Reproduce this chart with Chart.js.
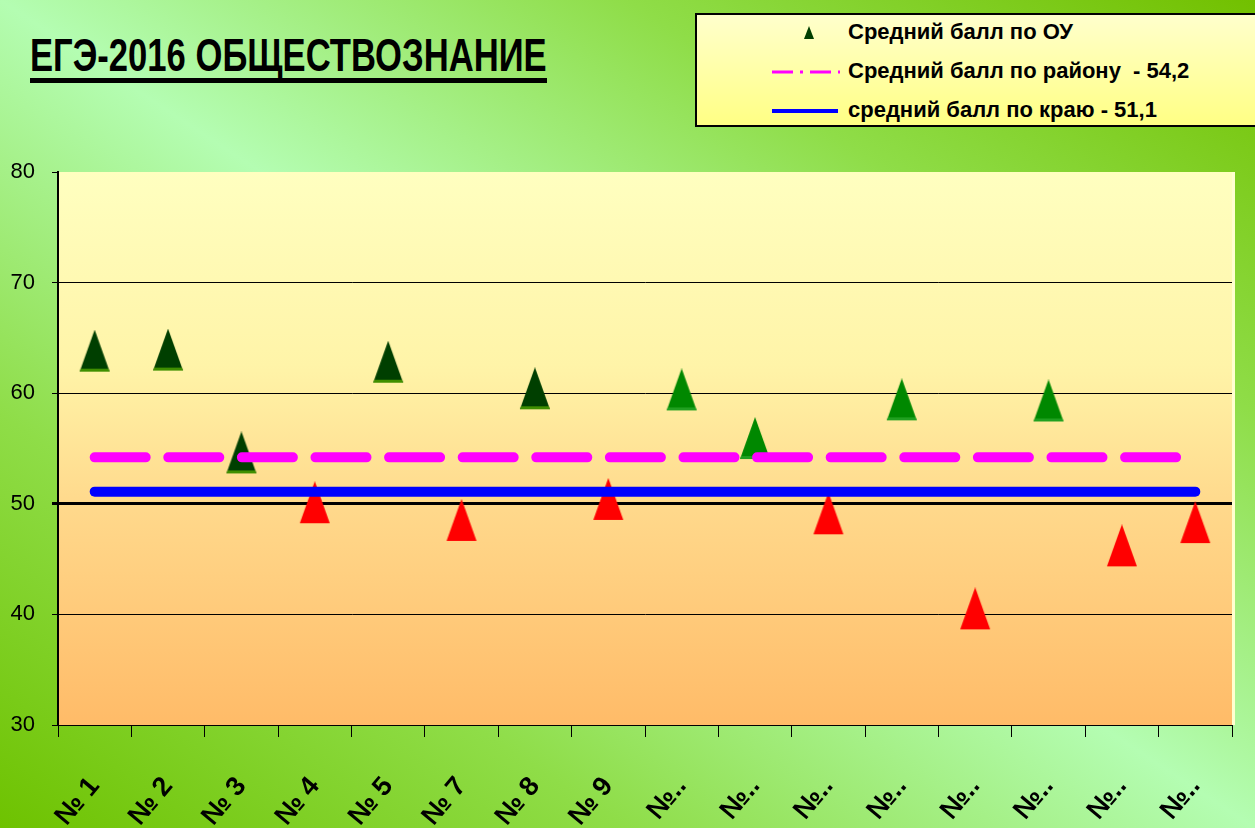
<!DOCTYPE html>
<html lang="ru">
<head>
<meta charset="utf-8">
<title>ЕГЭ-2016 Обществознание</title>
<script src="https://cdn.jsdelivr.net/npm/chart.js@4.4.1/dist/chart.umd.min.js"></script>
<style>
    html, body { margin: 0; padding: 0; width: 1255px; height: 828px; overflow: hidden; }
    body {
        position: relative;
        background: linear-gradient(to top right, #6ec200 0%, #8fdd48 25%, #b4fdb2 50%, #8fdd48 75%, #72c000 100%);
        font-family: "Liberation Sans", Arial, sans-serif;
    }
    #chart { position: absolute; left: 0; top: 0; }
    .title {
        position: absolute; left: 30px; top: 32px;
        font-size: 47px; font-weight: bold; line-height: 46px;
        border-bottom: 5px solid #000; white-space: nowrap;
        transform-origin: 0 0;
    }
    .legend {
        position: absolute; left: 695px; top: 13px; width: 580px; height: 110px;
        border: 2px solid #000;
        background: linear-gradient(#ffffcc, #ffff84);
    }
    .legend .row { position: absolute; left: 0; height: 30px; width: 100%; }
    .legend .swatch { position: absolute; left: 75px; top: 0; width: 68px; height: 30px; }
    .legend .text {
        position: absolute; left: 151px; top: 2px;
        font-size: 22px; font-weight: bold; line-height: 26px; white-space: pre;
    }
</style>
</head>
<body>
<div class="title" id="title">ЕГЭ-2016 ОБЩЕСТВОЗНАНИЕ</div>
<div class="legend" id="legend"></div>
<canvas id="chart" width="1255" height="828"></canvas>
<script>
// categories and values
const categories = ['№ 1', '№ 2', '№ 3', '№ 4', '№ 5', '№ 7', '№ 8', '№ 9',
    '№..', '№..', '№..', '№..', '№..', '№..', '№..', '№..'];
const ouScores = [63.8, 63.9, 54.6, 50.1, 62.8, 48.5, 60.4, 50.4,
    60.3, 55.9, 49.1, 59.4, 40.5, 59.3, 46.2, 48.3];
const districtLine = [54.2, 54.2, 54.2, 54.2, 54.2, 54.2, 54.2, 54.2,
    54.2, 54.2, 54.2, 54.2, 54.2, 54.2, 54.2, 54.2];
const regionLine = [51.1, 51.1, 51.1, 51.1, 51.1, 51.1, 51.1, 51.1,
    51.1, 51.1, 51.1, 51.1, 51.1, 51.1, 51.1, 51.1];
const yTicks = [30, 40, 50, 60, 70, 80];
const seriesLabels = ['Средний балл по ОУ', 'Средний балл по району  - 54,2', 'средний балл по краю - 51,1'];

// marker colour per school, as in the picture
const markerColours = ['dark', 'dark', 'dark', 'red', 'dark', 'red', 'dark', 'red',
    'green', 'green', 'red', 'green', 'red', 'green', 'red', 'red'];

// squeeze the title to the narrow width of the original
const titleEl = document.getElementById('title');
titleEl.style.transform = 'scaleX(' + (517 / titleEl.offsetWidth) + ')';

function makeTriangle(fill, base, w, h) {
    const c = document.createElement('canvas');
    c.width = w + 2; c.height = h + 1;
    const g = c.getContext('2d');
    g.beginPath();
    g.moveTo(c.width / 2, 0);
    g.lineTo(w + 1, h);
    g.lineTo(1, h);
    g.closePath();
    g.fillStyle = fill;
    g.fill();
    if (base) {
        g.save();
        g.clip();
        g.fillStyle = base;
        g.fillRect(0, h - 3, c.width, 4);
        g.restore();
    }
    return c;
}

const triangles = {
    dark: makeTriangle('#003f00', '#3f8f00', 30, 42),
    green: makeTriangle('#008800', '#20a020', 30, 42),
    red: makeTriangle('#ff0000', null, 30, 42)
};
const markerStyles = markerColours.map(k => triangles[k]);

const plotBackground = {
    id: 'plotBackground',
    beforeDraw(chart) {
        const { ctx, chartArea: a } = chart;
        const grad = ctx.createLinearGradient(0, a.top, 0, a.bottom);
        grad.addColorStop(0, '#ffffc0');
        grad.addColorStop(0.35, '#fff4a8');
        grad.addColorStop(0.6, '#ffd98c');
        grad.addColorStop(1, '#ffbb68');
        ctx.save();
        ctx.fillStyle = grad;
        ctx.fillRect(a.left, a.top, a.right - a.left, a.bottom - a.top);
        ctx.fillStyle = '#ffffd0';
        ctx.fillRect(a.right, a.top, 3, a.bottom - a.top);
        ctx.restore();
    }
};

const tickFont = { family: '"Liberation Sans", Arial, sans-serif', size: 22 };

const chart = new Chart(document.getElementById('chart'), {
    type: 'line',
    data: {
        labels: categories,
        datasets: [{
            label: seriesLabels[0],
            data: ouScores,
            showLine: false,
            pointStyle: markerStyles,
            pointRadius: 16,
            order: 3
        }, {
            label: seriesLabels[1],
            data: districtLine,
            borderColor: '#ff00ff',
            borderWidth: 10,
            borderDash: [51, 22.6],
            borderCapStyle: 'round',
            pointRadius: 0,
            order: 1
        }, {
            label: seriesLabels[2],
            data: regionLine,
            borderColor: '#0000ff',
            borderWidth: 10,
            borderCapStyle: 'round',
            pointRadius: 0,
            order: 2
        }]
    },
    options: {
        responsive: false,
        animation: false,
        layout: { padding: { top: 172, right: 23, left: 0, bottom: 0 } },
        plugins: {
            legend: { display: false },
            tooltip: { enabled: false }
        },
        scales: {
            x: {
                offset: true,
                grid: { offset: true, drawOnChartArea: false, color: '#000', tickLength: 12, lineWidth: 1 },
                border: { color: '#000', width: 1 },
                ticks: {
                    autoSkip: false, minRotation: 50, maxRotation: 50, padding: 34,
                    color: '#000', font: { family: '"Liberation Sans", Arial, sans-serif', size: 27, weight: 'bold' }
                },
                afterFit: s => { s.height = 103; }
            },
            y: {
                min: 30, max: 80,
                afterBuildTicks: s => { s.ticks = yTicks.map(v => ({ value: v })); },
                grid: {
                    color: c => c.tick && c.tick.value === 80 ? 'rgba(0,0,0,0)' : '#000',
                    lineWidth: c => c.tick && c.tick.value === 50 ? 3 : 1,
                    tickColor: '#000', tickLength: 6
                },
                border: { color: '#000', width: 2 },
                ticks: { color: '#000', font: tickFont, padding: 17 },
                afterFit: s => { s.width = 58; }
            }
        }
    },
    plugins: [plotBackground]
});

// HTML legend built from the chart's datasets
const legendEl = document.getElementById('legend');
const rowTops = [2, 41, 80];
chart.data.datasets.forEach((ds, i) => {
    const row = document.createElement('div');
    row.className = 'row';
    row.style.top = rowTops[i] + 'px';
    let swatch;
    if (i === 0) {
        swatch = '<svg class="swatch" width="68" height="30"><polygon points="37,9 42,22 32,22" fill="#003f00"/></svg>';
    } else if (i === 1) {
        swatch = '<svg class="swatch" width="68" height="30"><line x1="0" y1="16" x2="68" y2="16" stroke="#ff00ff" stroke-width="3" stroke-dasharray="21,7,3,7"/></svg>';
    } else {
        swatch = '<svg class="swatch" width="68" height="30"><line x1="0" y1="16" x2="66" y2="16" stroke="#0000ff" stroke-width="4"/></svg>';
    }
    row.innerHTML = swatch + '<span class="text"></span>';
    row.querySelector('.text').textContent = ds.label;
    legendEl.appendChild(row);
});
</script>
</body>
</html>
